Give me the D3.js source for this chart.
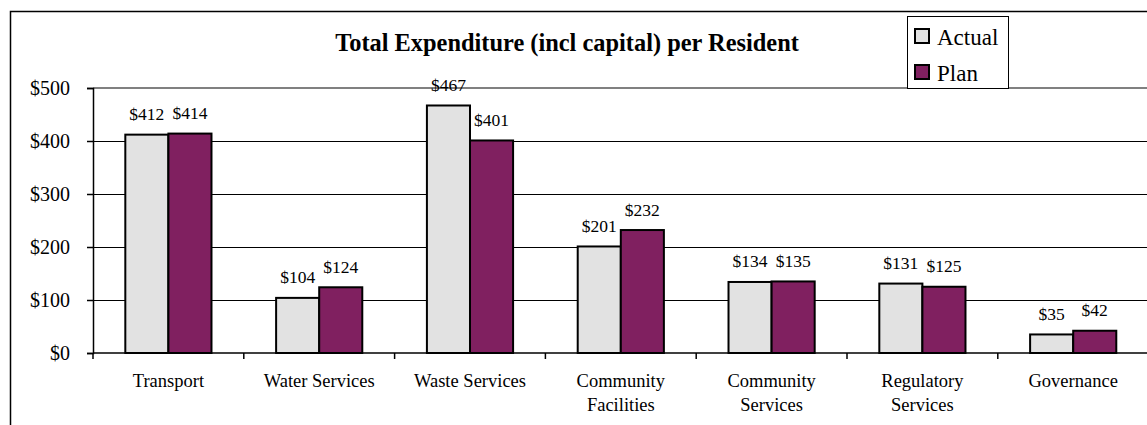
<!DOCTYPE html>
<html>
<head>
<meta charset="utf-8">
<script src="https://cdn.jsdelivr.net/npm/d3@7"></script>
<style>
  html, body { margin: 0; padding: 0; background: #fff; }
  svg { display: block; }
  svg text { font-family: "Liberation Serif", "Times New Roman", serif; }
</style>
</head>
<body>
<svg id="chart" width="1147" height="425"></svg>
<script>
// Expenditure per resident by activity group
const categories = ["Transport", "Water Services", "Waste Services", "Community Facilities",
                    "Community Services", "Regulatory Services", "Governance"];
const actual = [412, 104, 467, 201, 134, 131, 35];
const plan   = [414, 124, 401, 232, 135, 125, 42];
const seriesNames = ["Actual", "Plan"];
const yTicks = [0, 100, 200, 300, 400, 500];
const chartTitle = "Total Expenditure (incl capital) per Resident";

const colors = { Actual: "#e2e2e2", Plan: "#802060" };
const SERIF = "Liberation Serif, Times New Roman, serif";

const svg = d3.select("#chart");
const W = 1147, H = 425;

// Outer chart frame (runs off the right and bottom edges)
svg.append("rect")
  .attr("x", 10.5).attr("y", 11.5)
  .attr("width", W + 20).attr("height", H + 20)
  .attr("fill", "#fff").attr("stroke", "#000").attr("stroke-width", 1.5);

const plot = { left: 93, top: 88, bottom: 353, bandW: 150.8 };
plot.right = plot.left + plot.bandW * categories.length;

const x = d3.scaleBand().domain(categories).range([plot.left, plot.right]).paddingInner(0).paddingOuter(0);
const barW = x.bandwidth() / 3.5; // gap width 150%
const xs = d3.scaleBand().domain(seriesNames).range([0, barW * 2]);
const y = d3.scaleLinear().domain([0, 500]).range([plot.bottom, plot.top]);

// Gridlines
svg.append("g").selectAll("line").data(yTicks.filter(t => t > 0 && t < 500)).join("line")
  .attr("x1", plot.left).attr("x2", plot.right)
  .attr("y1", d => Math.round(y(d)) + 0.5).attr("y2", d => Math.round(y(d)) + 0.5)
  .attr("stroke", "#000").attr("stroke-width", 1);

// Plot area border (top visible)
svg.append("line")
  .attr("x1", plot.left).attr("x2", plot.right)
  .attr("y1", y(500)).attr("y2", y(500))
  .attr("stroke", "#808080").attr("stroke-width", 2);

// Bars
const data = categories.map((c, i) => ({ cat: c, values: [
  { s: "Actual", v: actual[i] }, { s: "Plan", v: plan[i] } ] }));

const groups = svg.append("g").selectAll("g").data(data).join("g")
  .attr("transform", d => `translate(${x(d.cat) + (x.bandwidth() - barW * 2) / 2},0)`);

groups.selectAll("rect").data(d => d.values).join("rect")
  .attr("x", d => xs(d.s))
  .attr("y", d => y(d.v))
  .attr("width", xs.bandwidth())
  .attr("height", d => y(0) - y(d.v))
  .attr("fill", d => colors[d.s])
  .attr("stroke", "#000").attr("stroke-width", 2);

groups.selectAll("text").data(d => d.values).join("text")
  .attr("x", d => xs(d.s) + xs.bandwidth() / 2)
  .attr("y", d => y(d.v) - 14.5)
  .attr("text-anchor", "middle")
  .attr("font-family", SERIF)
  .attr("font-size", 17.5)
  .attr("fill", "#000")
  .text(d => "$" + d.v);

// Y axis
const yAxis = svg.append("g")
  .attr("transform", `translate(${plot.left},0)`)
  .call(d3.axisLeft(y).tickValues(yTicks).tickFormat(d => "$" + d).tickSize(6).tickPadding(17));
yAxis.attr("font-family", SERIF);
yAxis.select(".domain").attr("stroke", "#000").attr("stroke-width", 1.5);
yAxis.selectAll(".tick line").attr("stroke", "#000").attr("stroke-width", 1.5);
yAxis.selectAll(".tick text").attr("font-size", 20).attr("font-family", SERIF).attr("fill", "#000");

// X axis with ticks at category boundaries
const xAxis = svg.append("g").attr("transform", `translate(0,${plot.bottom})`);
xAxis.append("line")
  .attr("x1", plot.left).attr("x2", plot.right).attr("y1", 0).attr("y2", 0)
  .attr("stroke", "#000").attr("stroke-width", 1.5);
xAxis.selectAll("line.tk").data(d3.range(categories.length + 1)).join("line")
  .attr("class", "tk")
  .attr("x1", i => plot.left + i * x.bandwidth()).attr("x2", i => plot.left + i * x.bandwidth())
  .attr("y1", 0).attr("y2", 6)
  .attr("stroke", "#000").attr("stroke-width", 1.5);

const catLabels = xAxis.selectAll("text.cat").data(categories).join("text")
  .attr("class", "cat")
  .attr("text-anchor", "middle")
  .attr("font-family", SERIF)
  .attr("font-size", 18.5)
  .attr("fill", "#000")
  .attr("transform", d => `translate(${x(d) + x.bandwidth() / 2},34)`);

// Wrap category names that are wider than the band
catLabels.each(function(d) {
  const t = d3.select(this);
  t.text(d);
  if (this.getComputedTextLength() > x.bandwidth() * 0.85) {
    const words = d.split(" ");
    t.text(null);
    words.forEach((w, i) => t.append("tspan").attr("x", 0).attr("dy", i === 0 ? 0 : 24).text(w));
  }
});

// Title
svg.append("text")
  .attr("x", 567).attr("y", 51)
  .attr("text-anchor", "middle")
  .attr("font-family", SERIF)
  .attr("font-size", 24.4).attr("font-weight", "bold")
  .attr("fill", "#000")
  .text(chartTitle);

// Legend
const lg = svg.append("g");
lg.append("rect")
  .attr("x", 907.5).attr("y", 16.5).attr("width", 101).attr("height", 72)
  .attr("fill", "#fff").attr("stroke", "#000").attr("stroke-width", 1);
const items = lg.selectAll("g").data(seriesNames).join("g")
  .attr("transform", (d, i) => `translate(915,${29 + i * 36})`);
items.append("rect")
  .attr("width", 14).attr("height", 14)
  .attr("fill", d => colors[d]).attr("stroke", "#000").attr("stroke-width", 2);
items.append("text")
  .attr("x", 22).attr("y", 15.5)
  .attr("font-family", SERIF)
  .attr("font-size", 23)
  .attr("fill", "#000")
  .text(d => d);
</script>
</body>
</html>
